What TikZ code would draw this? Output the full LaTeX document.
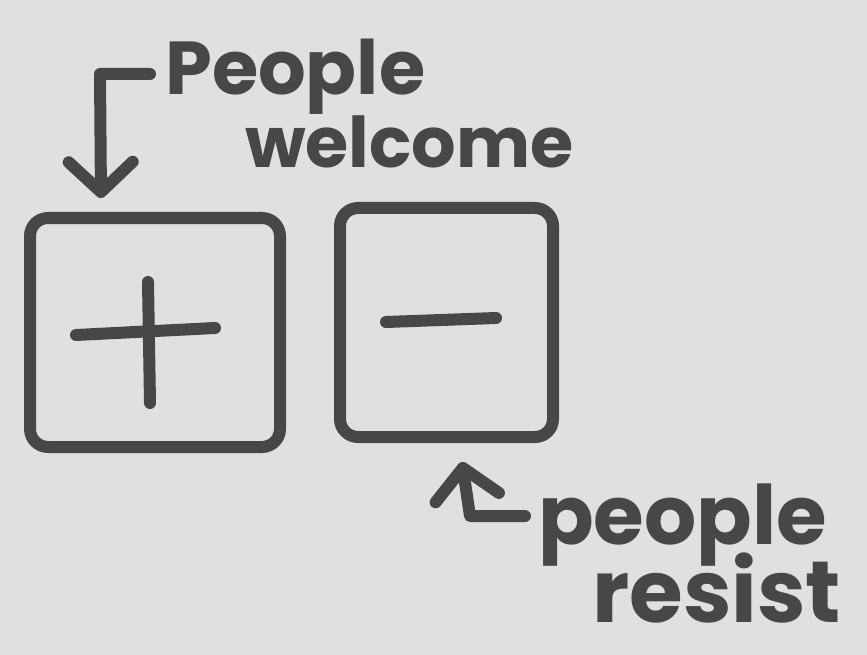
\documentclass[tikz,border=0pt]{standalone}
\usepackage{fontspec}
\setmainfont{Poppins}
\usetikzlibrary{arrows.meta}
\definecolor{bg}{HTML}{E0E0E0}
\definecolor{ink}{HTML}{474747}
\begin{document}
\begin{tikzpicture}[x=1pt,y=-1pt,
  ink/.style={draw=ink,line width=12pt,line cap=round,line join=round},
  card/.style={ink,rounded corners=18pt},
  lbl/.style={text=ink,inner sep=0pt},
  tip/.style={-{Straight Barb[length=30pt,width=64pt,line cap=round,line join=round]}}]
\fill[bg] (0,0) rectangle (867,655);
\useasboundingbox (0,0) rectangle (867,655);
% boxes
\draw[card] (30,218) rectangle (280,447);
\draw[card] (340,208) rectangle (553,437);
% plus and minus
\draw[ink] (76,335) -- (215,328);
\draw[ink] (148,282) -- (150,403);
\draw[ink] (386,322) -- (496,318);
% labels
\node[lbl,anchor=base west,font=\bfseries\fontsize{75}{75}\selectfont] (people1) at (165,95) {People};
\node[lbl,anchor=base west,font=\bfseries\fontsize{70}{70}\selectfont] (welcome) at (245,168) {welcome};
\node[lbl,anchor=base west,font=\bfseries\fontsize{82}{82}\selectfont] (people2) at (538,544) {people};
\node[lbl,anchor=base west,font=\bfseries\fontsize{87}{87}\selectfont] (resist) at (592,622) {resist};
% arrows
\coordinate (a1) at (150,74);
\draw[ink,tip] (a1) -- (100,74) -- (101,198);
\coordinate (a2) at (525,516);
\draw[ink,tip] (a2) -- (470,516) -- (462,462);
\end{tikzpicture}
\end{document}
